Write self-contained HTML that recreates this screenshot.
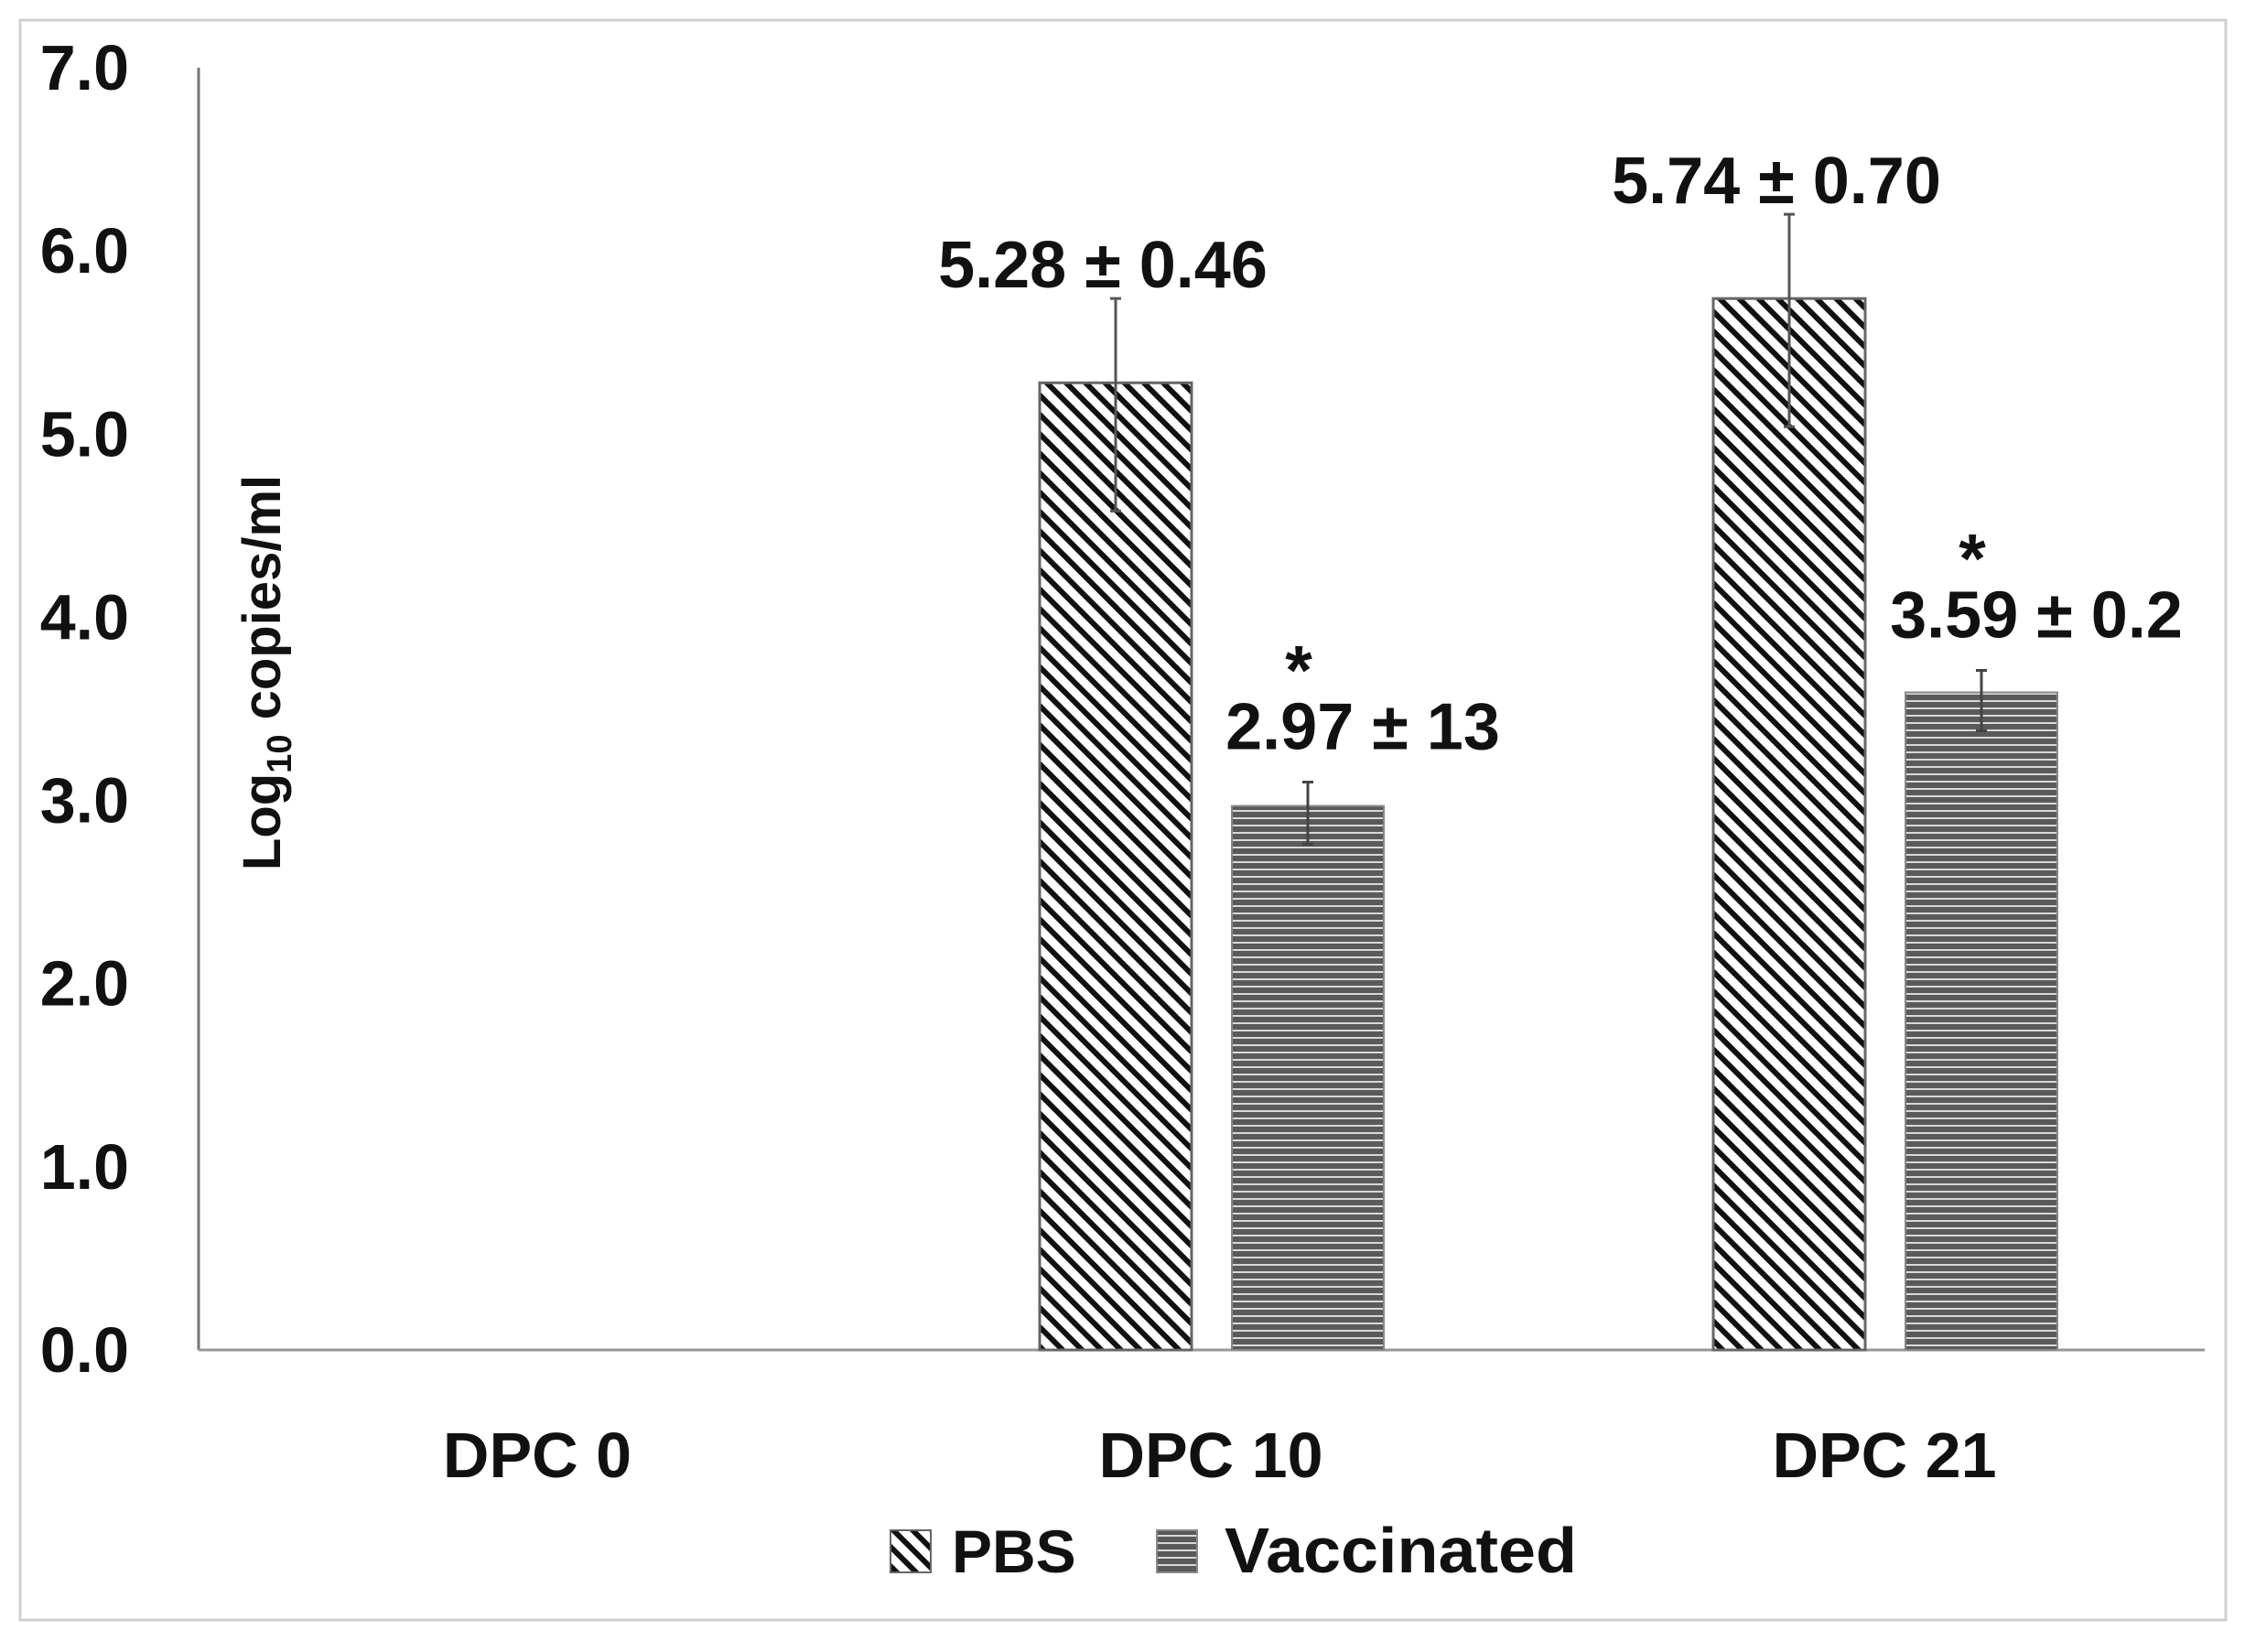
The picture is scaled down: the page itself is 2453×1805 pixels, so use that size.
<!DOCTYPE html>
<html><head><meta charset="utf-8"><style>
html,body{margin:0;padding:0;background:#fff;}
svg{display:block;font-family:"Liberation Sans",sans-serif;font-weight:bold;}
</style></head><body>
<svg id="chart" width="2453" height="1805" viewBox="0 0 2453 1805">
<defs>
<pattern id="diag" patternUnits="userSpaceOnUse" width="15" height="15" patternTransform="rotate(-45)">
<rect width="15" height="15" fill="#fff"/><rect x="0" y="0" width="6" height="15" fill="#111"/>
</pattern>
<pattern id="horiz" patternUnits="userSpaceOnUse" width="10" height="8">
<rect width="10" height="8" fill="#5a5a5a"/><rect x="0" y="5" width="10" height="2" fill="#d8d8d8"/>
</pattern>
</defs>
<rect x="22" y="22" width="2410" height="1748" fill="#fff" stroke="#d0d0d0" stroke-width="3"/>
<g id="plot"></g>
</svg>
<script>
const categories = ["DPC 0","DPC 10","DPC 21"];
const pbsValues = [0, 5.28, 5.74];
const vacValues = [0, 2.97, 3.59];
const pbsErrUp = [0, 0.46, 0.46];
const pbsErrDown = [0, 0.70, 0.70];
const vacErrUp = [0, 0.13, 0.12];
const vacErrDown = [0, 0.21, 0.21];
const pbsLabels = ["", "5.28 ± 0.46", "5.74 ± 0.70"];
const vacLabels = ["", "2.97 ± 13", "3.59 ± 0.2"];
const vacStars = [false, true, true];
const yTicks = [0,1,2,3,4,5,6,7];
const yTickLabels = ["0.0","1.0","2.0","3.0","4.0","5.0","6.0","7.0"];

const NS="http://www.w3.org/2000/svg";
const g=document.getElementById('plot');
const x0=217, x1=2409, yb=1475, yt=74, ymax=7;
const y=v=>yb-(v/ymax)*(yb-yt);
const bandW=736;
const bandC=i=>x0+2+bandW*(i+0.5);
function mk(tag,attrs,parent){const e=document.createElementNS(NS,tag);for(const k in attrs)e.setAttribute(k,attrs[k]);(parent||g).appendChild(e);return e;}

let ax=mk('line',{x1:x0,y1:yt,x2:x0,y2:yb,stroke:'#777','stroke-width':3});


let bx=mk('line',{x1:x0,y1:yb,x2:x1,y2:yb,stroke:'#999','stroke-width':3});



yTicks.forEach((t,i)=>{
  const e=mk('text',{x:141,y:y(t)+24,'text-anchor':'end','font-size':70,fill:'#111'});
  e.textContent=yTickLabels[i];
  
  
});

const yt2=mk('text',{x:0,y:0,transform:'translate(306,735) rotate(-90)','text-anchor':'middle','font-size':58,fill:'#111'});


yt2.innerHTML='Log<tspan font-size="38" dy="12">10</tspan><tspan dy="-12"> copies/ml</tspan>';

const bw=166;
categories.forEach((c,i)=>{
  const cx=bandC(i);
  const lab=mk('text',{x:cx,y:1614,'text-anchor':'middle','font-size':70,fill:'#111'});
  lab.textContent=c;
  
  
  const px=cx-187, vx=cx+23;
  if(pbsValues[i]>0){
    const r=mk('rect',{x:px,y:y(pbsValues[i]),width:bw,height:yb-y(pbsValues[i]),fill:'url(#diag)',stroke:'#666','stroke-width':3});
    
    
    const ex=px+bw/2;
    const el=mk('path',{d:`M${ex},${y(pbsValues[i]+pbsErrUp[i])}V${y(pbsValues[i]-pbsErrDown[i])}M${ex-6},${y(pbsValues[i]+pbsErrUp[i])}h12M${ex-6},${y(pbsValues[i]-pbsErrDown[i])}h12`,stroke:'#555','stroke-width':3,fill:'none'});
    
    
    const t=mk('text',{x:ex-14,y:y(pbsValues[i]+pbsErrUp[i])-12,'text-anchor':'middle','font-size':72,fill:'#111'});
    t.textContent=pbsLabels[i];
    
    
  }
  if(vacValues[i]>0){
    const r=mk('rect',{x:vx,y:y(vacValues[i]),width:bw,height:yb-y(vacValues[i]),fill:'url(#horiz)',stroke:'#888','stroke-width':2});
    
    
    const ex=vx+bw/2;
    const el=mk('path',{d:`M${ex},${y(vacValues[i]+vacErrUp[i])}V${y(vacValues[i]-vacErrDown[i])}M${ex-6},${y(vacValues[i]+vacErrUp[i])}h12M${ex-6},${y(vacValues[i]-vacErrDown[i])}h12`,stroke:'#444','stroke-width':3,fill:'none'});
    
    
    const top=y(vacValues[i]+vacErrUp[i]);
    const t=mk('text',{x:ex+60,y:top-36,'text-anchor':'middle','font-size':72,fill:'#111'});
    t.textContent=vacLabels[i];
    
    
    if(vacStars[i]){
      const s=mk('text',{x:ex-10,y:top-96,'text-anchor':'middle','font-size':76,fill:'#111'});
      s.textContent='*';
      
      
    }
  }
});

const lg=mk('g',{});


const s1=mk('rect',{x:973,y:1672,width:44,height:46,fill:'url(#diag)',stroke:'#666','stroke-width':2},lg);


const t1=mk('text',{x:1040,y:1718,'font-size':66,fill:'#111'},lg);
t1.textContent='PBS';


const s2=mk('rect',{x:1264,y:1672,width:44,height:46,fill:'url(#horiz)',stroke:'#888','stroke-width':2},lg);


const t2=mk('text',{x:1338,y:1718,'font-size':70,fill:'#111',textLength:385,lengthAdjust:'spacingAndGlyphs'},lg);
t2.textContent='Vaccinated';


</script>
</body></html>
